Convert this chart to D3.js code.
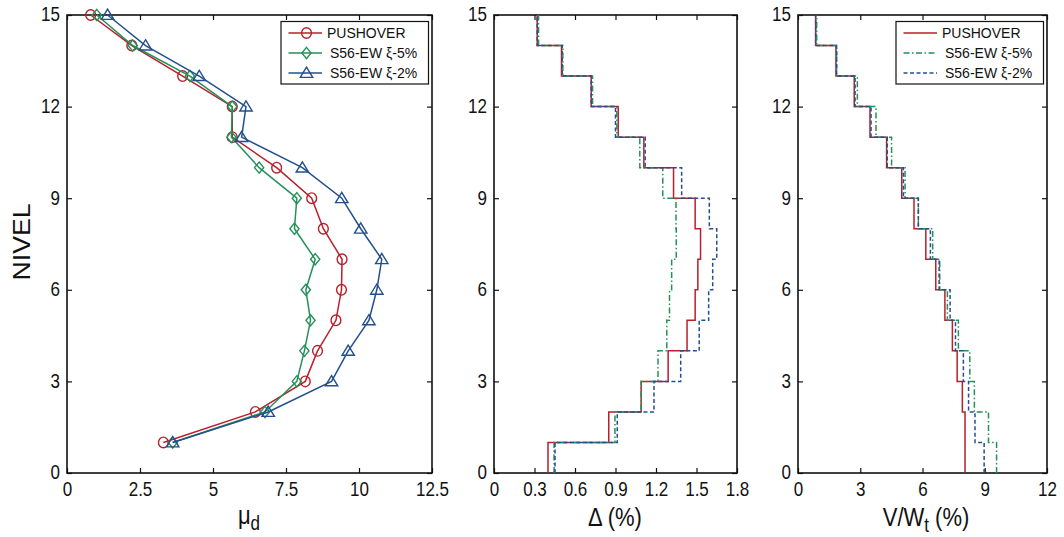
<!DOCTYPE html>
<html>
<head>
<meta charset="utf-8">
<script src="https://cdn.jsdelivr.net/npm/d3@7/dist/d3.min.js"></script>
<style>
  html, body { margin: 0; padding: 0; background: #fff; }
  svg { display: block; }
  text { font-family: "Liberation Sans", Arial, sans-serif; fill: #111; }
</style>
</head>
<body>
<svg id="chart" width="1064" height="537"></svg>
<script>
// Storey levels (1 = ground storey, 15 = roof)
const storeys = [1, 2, 3, 4, 5, 6, 7, 8, 9, 10, 11, 12, 13, 14, 15];
const seriesNames = ["PUSHOVER", "S56-EW \u03BE-5%", "S56-EW \u03BE-2%"];

// Ductility demand per level
const muPushover = [3.30, 6.45, 8.16, 8.58, 9.21, 9.40, 9.42, 8.78, 8.38, 7.18, 5.66, 5.66, 3.96, 2.22, 0.81];
const muS5       = [3.62, 6.78, 7.87, 8.13, 8.34, 8.18, 8.50, 7.79, 7.87, 6.58, 5.63, 5.66, 4.21, 2.25, 1.02];
const muS2       = [3.62, 6.89, 9.06, 9.63, 10.34, 10.61, 10.78, 10.06, 9.41, 8.06, 5.98, 6.13, 4.53, 2.69, 1.39];

// Interstorey drift (%) per storey
const driftPushover = [0.40, 0.85, 1.09, 1.29, 1.43, 1.49, 1.51, 1.53, 1.49, 1.33, 1.11, 0.92, 0.72, 0.50, 0.32];
const driftS5       = [0.445, 0.896, 1.09, 1.215, 1.28, 1.30, 1.316, 1.35, 1.348, 1.25, 1.08, 0.91, 0.73, 0.51, 0.33];
const driftS2       = [0.452, 0.913, 1.185, 1.383, 1.52, 1.59, 1.62, 1.65, 1.595, 1.39, 1.12, 0.90, 0.72, 0.505, 0.32];

// Storey shear normalised by total weight (%)
const shearPushover = [8.05, 8.05, 7.92, 7.67, 7.44, 7.08, 6.64, 6.16, 5.59, 5.00, 4.27, 3.47, 2.71, 1.83, 0.85];
const shearS5       = [9.57, 9.18, 8.50, 8.28, 7.73, 7.20, 6.83, 6.49, 5.80, 5.16, 4.51, 3.76, 2.86, 1.86, 0.90];
const shearS2       = [8.97, 8.53, 8.22, 7.97, 7.59, 7.33, 6.80, 6.38, 5.80, 5.08, 4.30, 3.52, 2.75, 1.86, 0.85];

// Tick values
const yTicks = [0, 3, 6, 9, 12, 15];
const muTicks = [0, 2.5, 5, 7.5, 10, 12.5];
const driftTicks = [0, 0.3, 0.6, 0.9, 1.2, 1.5, 1.8];
const shearTicks = [0, 3, 6, 9, 12];

const colors = ["#b8202b", "#23915a", "#244f8e"];
const dashes = [null, "6,2.5,1.5,2.5", "4,2.5"];
const stretch = 1.16; // glyphs are drawn slightly tall and narrow

const svg = d3.select("#chart");
svg.append("rect").attr("width", 1064).attr("height", 537).attr("fill", "#fff");

const plotTop = 15, plotBottom = 473;
const y = d3.scaleLinear().domain([0, 15]).range([plotBottom, plotTop]);

function tallText(sel) {
  sel.each(function () {
    const t = d3.select(this);
    const yv = +t.attr("y") || 0;
    t.attr("y", 0).attr("transform", `translate(0,${yv}) scale(1,${stretch})`);
  });
}

function panel(x0, x1, domain, xticks, fmt) {
  const x = d3.scaleLinear().domain(domain).range([x0, x1]);
  const g = svg.append("g");
  const tl = 5;
  // inner ticks on all four sides
  const bx = g.append("g").attr("transform", `translate(0,${plotBottom})`)
    .call(d3.axisBottom(x).tickValues(xticks).tickSize(-tl).tickFormat(fmt).tickPadding(9));
  const tx = g.append("g").attr("transform", `translate(0,${plotTop})`)
    .call(d3.axisTop(x).tickValues(xticks).tickSize(-tl).tickFormat(""));
  const ly = g.append("g").attr("transform", `translate(${x0},0)`)
    .call(d3.axisLeft(y).tickValues(yTicks).tickSize(-tl).tickPadding(7));
  const ry = g.append("g").attr("transform", `translate(${x1},0)`)
    .call(d3.axisRight(y).tickValues(yTicks).tickSize(-tl).tickFormat(""));
  [bx, tx, ly, ry].forEach(a => {
    a.select(".domain").remove();
    a.selectAll(".tick line").attr("stroke", "#111").attr("stroke-width", 1.2);
    a.selectAll("text").style("font-size", "17px").attr("fill", "#111");
  });
  bx.selectAll("text").attr("dy", "0.7em");
  ly.selectAll("text").attr("dy", "0.3em");
  tallText(bx.selectAll("text"));
  tallText(ly.selectAll("text"));
  g.append("rect")
    .attr("x", x0).attr("y", plotTop).attr("width", x1 - x0).attr("height", plotBottom - plotTop)
    .attr("fill", "none").attr("stroke", "#111").attr("stroke-width", 1.6);
  return { g, x };
}

// ---------- Panel 1: ductility profile with markers ----------
const p1 = panel(67, 432, [0, 12.5], muTicks, d => String(d));
const muSeries = [muPushover, muS5, muS2];
const line1 = d3.line().x(d => p1.x(d[0])).y(d => y(d[1]));

function marker(sel, kind, color) {
  if (kind === 0) {
    sel.append("ellipse").attr("rx", 4.9).attr("ry", 5.3).attr("fill", "none").attr("stroke", color).attr("stroke-width", 1.4);
  } else if (kind === 1) {
    sel.append("path").attr("d", "M0,-5.6L4.6,0L0,5.6L-4.6,0Z")
      .attr("fill", "none").attr("stroke", color).attr("stroke-width", 1.4);
  } else {
    sel.append("path").attr("d", "M0,-5.8L6.2,4.4L-6.2,4.4Z")
      .attr("fill", "none").attr("stroke", color).attr("stroke-width", 1.4);
  }
}

muSeries.forEach((vals, k) => {
  const pts = storeys.map((s, i) => [vals[i], s]);
  p1.g.append("path").attr("d", line1(pts)).attr("fill", "none")
    .attr("stroke", colors[k]).attr("stroke-width", 1.5);
  pts.forEach(p => {
    const m = p1.g.append("g").attr("transform", `translate(${p1.x(p[0])},${y(p[1])})`);
    marker(m, k, colors[k]);
  });
});

// ---------- Step profiles ----------
function stepPoints(vals) {
  const pts = [];
  vals.forEach((v, i) => { pts.push([v, storeys[i] - 1]); pts.push([v, storeys[i]]); });
  return pts;
}

const p2 = panel(494, 737, [0, 1.8], driftTicks, d => d === 0 ? "0" : d3.format(".1f")(d));
const line2 = d3.line().x(d => p2.x(d[0])).y(d => y(d[1]));
[driftPushover, driftS5, driftS2].forEach((vals, k) => {
  p2.g.append("path").attr("d", line2(stepPoints(vals))).attr("fill", "none")
    .attr("stroke", colors[k]).attr("stroke-width", 1.5)
    .attr("stroke-dasharray", dashes[k]);
});

const p3 = panel(798, 1047, [0, 12], shearTicks, d => String(d));
const line3 = d3.line().x(d => p3.x(d[0])).y(d => y(d[1]));
[shearPushover, shearS5, shearS2].forEach((vals, k) => {
  p3.g.append("path").attr("d", line3(stepPoints(vals))).attr("fill", "none")
    .attr("stroke", colors[k]).attr("stroke-width", 1.5)
    .attr("stroke-dasharray", dashes[k]);
});

// ---------- Legends ----------
function legend(x, yTop, w, withMarkers) {
  const g = svg.append("g");
  g.append("rect").attr("x", x).attr("y", yTop).attr("width", w).attr("height", 62.5)
    .attr("fill", "#fff").attr("stroke", "#111").attr("stroke-width", 1.2);
  seriesNames.forEach((name, k) => {
    const cy = yTop + 11.5 + k * 20;
    g.append("line").attr("x1", x + 7.5).attr("x2", x + 41).attr("y1", cy).attr("y2", cy)
      .attr("stroke", colors[k]).attr("stroke-width", 1.5)
      .attr("stroke-dasharray", withMarkers ? null : dashes[k]);
    if (withMarkers) {
      const m = g.append("g").attr("transform", `translate(${x + 25.5},${cy})`);
      marker(m, k, colors[k]);
    }
    g.append("text").attr("transform", `translate(${x + (k === 0 ? 46 : 49)},${cy}) scale(1,1.08)`)
      .attr("dy", "0.36em").style("font-size", "14px").text(name);
  });
}
legend(281, 21.5, 147.5, true);
legend(896, 21.5, 147.5, false);

// ---------- Axis titles ----------
svg.append("text").attr("transform", `translate(30,242) rotate(-90) scale(${stretch},1)`)
  .attr("text-anchor", "middle").style("font-size", "23px").text("NIVEL");

const t1 = svg.append("text").attr("transform", `translate(249,524) scale(1,${stretch})`)
  .attr("text-anchor", "middle").style("font-size", "22px");
t1.append("tspan").text("\u03BC");
t1.append("tspan").attr("dy", 5).style("font-size", "17px").text("d");

svg.append("text").attr("transform", `translate(615,526) scale(1,${stretch})`)
  .attr("text-anchor", "middle").style("font-size", "22px").text("\u0394 (%)");

const t3 = svg.append("text").attr("transform", `translate(926,526) scale(1,${stretch})`)
  .attr("text-anchor", "middle").style("font-size", "22px");
t3.append("tspan").text("V/W");
t3.append("tspan").attr("dy", 5).style("font-size", "17px").text("t");
t3.append("tspan").attr("dy", -5).text(" (%)");
</script>
</body>
</html>
